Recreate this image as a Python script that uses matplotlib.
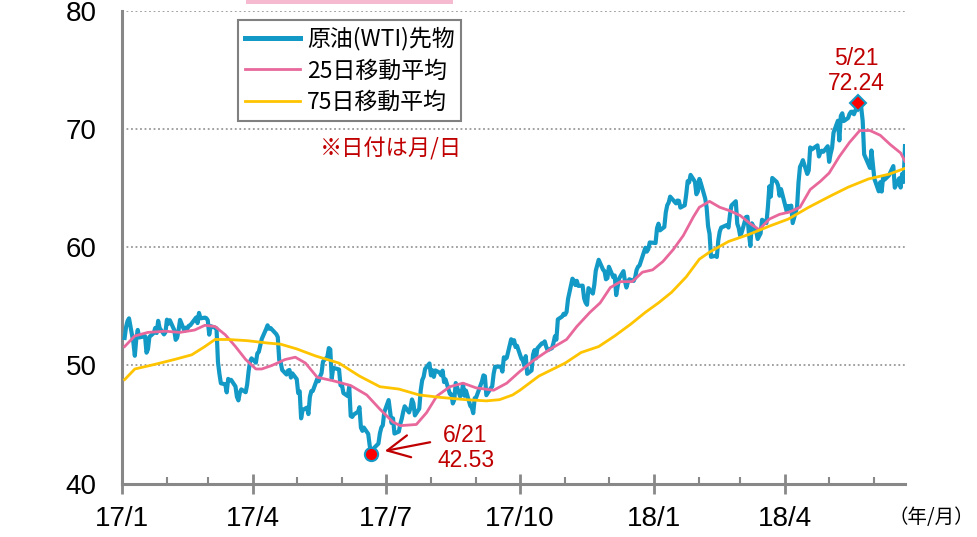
import numpy as np
import pandas as pd
import matplotlib
matplotlib.use("Agg")
import matplotlib.pyplot as plt
import matplotlib.dates as mdates
from matplotlib.patches import Rectangle
from matplotlib.ticker import FuncFormatter

plt.rcParams.update({
    "font.family": ["Liberation Sans", "DejaVu Sans"],
    "font.size": 16,
})
JP = ["Noto Sans CJK JP", "DejaVu Sans"]

BLUE = "#1399c6"
PINK = "#e8689c"
YELLOW = "#ffc400"
RED = "#c00000"
GRAY = "#888888"

# NYMEX closing days (exchange holidays removed from business days)
holidays = ["2017-01-02", "2017-01-16", "2017-02-20", "2017-04-14", "2017-05-29",
            "2017-07-04", "2017-09-04", "2017-11-23", "2017-12-25",
            "2018-01-01", "2018-01-15", "2018-02-19", "2018-03-30", "2018-05-28"]

# WTI front-month closes, USD/bbl
wti_17q1 = [52.33, 53.26, 53.76, 53.99, 51.96, 50.82, 52.25, 53.01, 52.37, 52.48,
            51.08, 51.37, 52.42, 52.75, 53.18, 52.75, 53.78, 53.17, 52.63, 52.81,
            53.88, 53.54, 53.83, 53.01, 52.17, 52.34, 53.00, 53.86, 52.93, 53.20,
            53.11, 53.36, 53.40, 54.06, 53.59, 54.45, 53.99, 54.05, 54.01,
            53.83, 52.61, 53.33, 53.20, 53.14, 50.28, 49.28, 48.49, 48.40, 47.72,
            48.86, 48.75, 48.78, 48.22, 47.34, 47.04, 47.70, 47.97, 47.73, 48.37,
            49.51, 50.35, 50.60]
wti_17q2 = [50.24, 51.03, 51.15, 51.70, 52.24, 53.08, 53.40, 53.11, 53.18, 52.65,
            52.41, 50.44, 50.27, 49.62, 49.23, 49.56, 49.62, 48.97, 49.33,
            48.84, 47.66, 47.82, 45.52, 46.22, 46.43, 45.88, 47.33, 47.83, 47.84,
            48.85, 48.66, 49.07, 49.35, 50.33, 50.73, 51.47, 51.36, 48.90, 49.80,
            49.66, 48.32,
            48.36, 47.66, 47.40, 48.19, 45.72, 45.64, 45.83, 46.08, 46.46, 44.73,
            44.46, 44.74, 44.20, 43.23, 42.53, 42.74, 43.01, 43.38, 44.24, 44.74,
            44.93, 46.04]
wti_17q3 = [47.07, 45.13, 45.52, 44.23, 44.40, 45.04, 45.49, 46.08, 46.54, 46.02,
            46.40, 47.12, 46.79, 45.77, 46.34, 47.89, 48.75, 49.04, 49.71, 50.17,
            49.16, 49.59, 49.03, 49.58, 49.39, 49.17, 49.56, 48.59, 48.82, 47.59,
            47.55, 46.78, 47.09, 48.51, 47.37, 47.64, 48.41, 47.43, 47.87, 46.57,
            46.44, 45.96, 47.23,
            47.29, 48.66, 49.16, 49.09, 47.48, 48.07, 48.23, 49.30, 49.89, 49.89,
            49.91, 49.48, 50.69, 50.55, 50.66, 52.22, 51.88, 52.14, 51.56, 51.67]
wti_17q4 = [50.58, 50.42, 49.98, 50.79, 49.29, 49.58, 50.92, 51.30, 50.60, 51.45,
            51.87, 51.88, 52.04, 51.60, 51.29, 51.47, 51.90, 52.47, 52.18, 53.90,
            54.15, 54.38,
            54.30, 54.54, 55.64, 57.35, 57.20, 56.81, 57.17, 56.74, 56.76, 55.70,
            55.33, 55.14, 56.55, 56.09, 56.83, 58.02, 58.95, 58.11, 57.99, 57.30,
            57.40,
            58.36, 57.47, 57.62, 55.96, 56.69, 57.36, 57.99, 57.14, 56.60, 57.04,
            57.30, 57.16, 57.46, 58.09, 58.36, 58.47, 59.97, 59.64, 59.84, 60.42]
wti_18q1 = [60.37, 61.63, 62.01, 61.44, 61.73, 62.96, 63.57, 63.80, 64.30, 63.73,
            63.97, 63.95, 63.37, 63.57, 64.47, 65.61, 65.51, 66.14, 65.56, 64.50,
            64.73,
            65.80, 65.45, 64.15, 63.39, 61.79, 61.15, 59.20, 59.29, 59.19, 60.60,
            61.34, 61.68, 61.90, 61.68, 62.77, 63.55, 63.91, 62.01, 61.64,
            60.99, 61.25, 62.57, 62.60, 61.15, 60.12, 62.04, 61.36, 60.71, 60.96,
            61.19, 62.34, 62.06, 63.40, 65.17, 64.30, 65.88, 65.55, 65.25, 64.38,
            64.94]
wti_18q2 = [63.01, 63.51, 63.37, 63.54, 62.06, 63.42, 65.51, 66.82, 67.07, 67.39,
            66.22, 66.52, 68.47, 68.29, 68.38, 68.64, 67.70, 68.05, 68.19, 68.10,
            68.57,
            67.25, 67.93, 68.43, 69.72, 70.73, 69.06, 71.14, 71.36, 70.70, 70.96,
            71.31, 71.49, 71.49, 71.28, 72.24, 72.13, 71.84, 70.71, 67.88, 66.73,
            68.21, 67.04,
            65.81, 64.75, 65.52, 64.73, 65.95, 65.74, 66.10, 66.36, 66.64, 66.89,
            65.06, 65.85, 65.07, 66.22, 65.54, 68.58]

# 25-day moving average
ma25_dates = ["2017-01-03", "2017-01-10", "2017-01-19", "2017-01-31", "2017-02-10",
              "2017-02-20", "2017-02-27", "2017-03-06", "2017-03-13", "2017-03-20",
              "2017-03-27", "2017-04-03", "2017-04-07", "2017-04-14", "2017-04-23",
              "2017-04-30", "2017-05-07", "2017-05-15", "2017-05-26", "2017-06-07",
              "2017-06-18", "2017-06-27", "2017-07-06", "2017-07-11", "2017-07-22",
              "2017-07-29", "2017-08-05", "2017-08-14", "2017-08-23", "2017-09-01",
              "2017-09-13", "2017-09-22", "2017-10-01", "2017-10-10", "2017-10-22",
              "2017-11-02", "2017-11-09", "2017-11-18", "2017-11-25", "2017-12-02",
              "2017-12-09", "2017-12-17", "2017-12-24", "2017-12-31", "2018-01-07",
              "2018-01-14", "2018-01-21", "2018-01-28", "2018-02-01", "2018-02-08",
              "2018-02-15", "2018-02-22", "2018-03-01", "2018-03-08", "2018-03-14",
              "2018-03-21", "2018-03-28", "2018-04-04", "2018-04-11", "2018-04-18",
              "2018-04-25", "2018-05-01", "2018-05-08", "2018-05-15", "2018-05-22",
              "2018-05-29", "2018-06-05", "2018-06-12", "2018-06-19", "2018-06-22"]
ma25_vals = [51.6, 52.5, 52.8, 52.9, 52.8, 53.0, 53.4, 53.3, 52.6, 51.6,
             50.5, 49.7, 49.7, 50.0, 50.5, 50.7, 50.2, 49.0, 48.7, 48.3,
             47.5, 46.3, 45.2, 44.9, 45.0, 46.0, 47.4, 48.2, 48.5, 48.1,
             47.9, 48.5, 49.5, 50.4, 51.4, 52.2, 53.3, 54.5, 55.3, 56.6,
             57.1, 57.1, 57.9, 58.1, 58.8, 59.8, 61.0, 62.6, 63.4, 63.9,
             63.4, 63.1, 62.7, 62.0, 61.5, 62.4, 62.8, 63.0, 63.4, 64.9,
             65.6, 66.3, 67.7, 68.9, 69.9, 69.9, 69.5, 68.7, 68.0, 67.3]

# 75-day moving average
ma75_dates = ["2017-01-03", "2017-01-10", "2017-01-24", "2017-02-06", "2017-02-18",
              "2017-02-27", "2017-03-06", "2017-03-15", "2017-03-28", "2017-04-11",
              "2017-04-20", "2017-05-01", "2017-05-14", "2017-05-30", "2017-06-13",
              "2017-06-27", "2017-07-10", "2017-07-24", "2017-08-07", "2017-08-25",
              "2017-09-08", "2017-09-17", "2017-09-26", "2017-10-01", "2017-10-14",
              "2017-11-01", "2017-11-12", "2017-11-24", "2017-12-05", "2017-12-16",
              "2017-12-26", "2018-01-04", "2018-01-13", "2018-01-23", "2018-02-01",
              "2018-02-08", "2018-02-21", "2018-03-07", "2018-03-21", "2018-04-03",
              "2018-04-17", "2018-05-01", "2018-05-14", "2018-05-28", "2018-06-11",
              "2018-06-22"]
ma75_vals = [48.8, 49.7, 50.1, 50.5, 50.9, 51.6, 52.2, 52.2, 52.1, 51.9,
             51.8, 51.4, 50.8, 50.2, 49.1, 48.2, 48.0, 47.5, 47.3, 47.1,
             47.0, 47.1, 47.5, 47.9, 49.1, 50.2, 51.1, 51.6, 52.5, 53.5,
             54.5, 55.3, 56.2, 57.5, 59.0, 59.6, 60.5, 61.1, 61.8, 62.4,
             63.4, 64.3, 65.1, 65.8, 66.2, 66.7]

wti = np.array(wti_17q1 + wti_17q2 + wti_17q3 + wti_17q4 + wti_18q1 + wti_18q2)
days = pd.bdate_range("2017-01-03", "2018-06-22", freq="C", holidays=holidays)
assert len(days) == len(wti), (len(days), len(wti))

fig = plt.figure(figsize=(9.78, 5.37), dpi=100)
ax = fig.add_axes([121.7 / 978, 1 - 483.5 / 537, (905 - 121.7) / 978, (483.5 - 11.3) / 537])

ax.plot(days, wti, color=BLUE, lw=3.0, solid_joinstyle="round", zorder=3, label="原油(WTI)先物")
ax.plot(pd.to_datetime(ma25_dates), ma25_vals, color=PINK, lw=2.0, zorder=4, label="25日移動平均")
ax.plot(pd.to_datetime(ma75_dates), ma75_vals, color=YELLOW, lw=2.0, zorder=4, label="75日移動平均")

# low and high of the period
lo = int(np.argmin(wti))
hi = int(np.argmax(wti))
ax.plot(days[lo], wti[lo], "o", ms=9.5, mfc="#ff0000", mec=BLUE, mew=1.5, zorder=6)
ax.plot(days[hi], wti[hi], "D", ms=8.5, mfc="#ff0000", mec=BLUE, mew=1.5, zorder=6)

ax.annotate(f"{days[hi].month}/{days[hi].day}\n{wti[hi]:.2f}", xy=(days[hi], wti[hi]),
            xytext=(-1.5, 6), textcoords="offset points", ha="center", va="bottom",
            color=RED, fontsize=16.5, linespacing=1.1)
ax.annotate(f"{days[lo].month}/{days[lo].day}\n{wti[lo]:.2f}", xy=(days[lo], wti[lo]),
            xytext=(68, 4), textcoords="offset points", ha="center", va="center",
            color=RED, fontsize=16.5, linespacing=1.1,
            arrowprops=dict(arrowstyle="->,head_length=0.8,head_width=0.4", color=RED,
                            lw=1.6, shrinkA=3, shrinkB=10, relpos=(0.0, 0.65),
                            mutation_scale=20))

ax.text(0.253, 0.708, "※日付は月/日", transform=ax.transAxes, ha="left", va="center",
        color=RED, fontsize=16, family=JP)
ax.text(1.034, -0.073, "（年/月）", transform=ax.transAxes, ha="center", va="center",
        fontsize=14, family=JP)

# axes styling
ax.set_ylim(40, 80)
ax.set_yticks(np.arange(40, 81, 10))
ax.set_xlim(pd.Timestamp("2017-01-01"), days[-1])
ax.xaxis.set_major_locator(mdates.MonthLocator(bymonth=[1, 4, 7, 10]))
ax.xaxis.set_minor_locator(mdates.MonthLocator())
ax.xaxis.set_major_formatter(FuncFormatter(
    lambda x, pos: f"{mdates.num2date(x).year % 100}/{mdates.num2date(x).month}"))

for side in ["top", "right"]:
    ax.spines[side].set_visible(False)
for side in ["left", "bottom"]:
    ax.spines[side].set_color(GRAY)
    ax.spines[side].set_linewidth(2.2)

ax.yaxis.grid(True, color="#999999", linestyle=(0, (1, 1.5)), lw=1.3)
ax.set_axisbelow(True)
ax.tick_params(axis="y", length=0, pad=18, labelsize=20)
ax.tick_params(axis="x", which="major", direction="inout", length=14, width=2,
               color=GRAY, pad=9, labelsize=20)
ax.tick_params(axis="x", which="minor", direction="in", length=5, width=1.5, color=GRAY)

leg = ax.legend(loc="upper left", bbox_to_anchor=(238 / 978, 1 - 20 / 537),
                bbox_transform=fig.transFigure, prop={"family": JP, "size": 16.5},
                frameon=True, fancybox=False, edgecolor="#808080", framealpha=1,
                borderpad=0.3, handlelength=2.4, handletextpad=0.3,
                labelspacing=0.38, borderaxespad=0)
leg.get_frame().set_linewidth(1.5)
leg.get_lines()[0].set_linewidth(3.6)

# pink heading band cut at the top edge
fig.add_artist(Rectangle((246 / 978, 1 - 3.5 / 537), 207 / 978, 0.02,
                         transform=fig.transFigure, facecolor="#f5b9d0",
                         edgecolor="none"))

fig.savefig("out.png", dpi=100)
